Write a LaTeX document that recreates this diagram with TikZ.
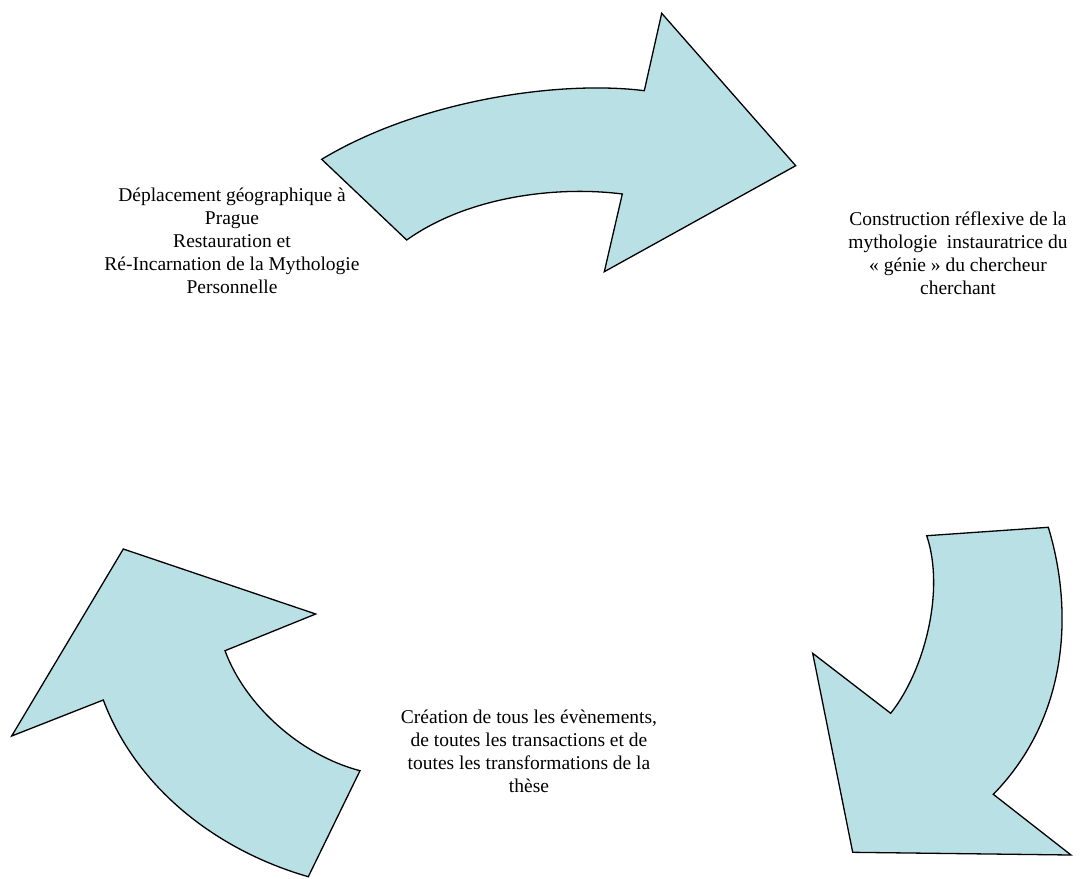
\documentclass[tikz,border=0pt]{standalone}
\usepackage{fontspec}
\setmainfont{Liberation Serif}
\definecolor{arrowfill}{RGB}{185,224,228}
\tikzset{
  bigarrow/.style={draw=black, line width=1.3pt, fill=arrowfill, line join=miter},
  label/.style={align=center, font=\fontsize{19.5}{23}\selectfont, inner sep=0pt}
}
\begin{document}
\begin{tikzpicture}[x=1pt,y=-1pt]
\useasboundingbox (0,0) rectangle (1091,878);
% top arrow
\draw[bigarrow] (321.7,159.3) .. controls (420,100) and (560,80) .. (644.3,90.7)
  -- (661.7,13.3) -- (795.7,165.7) -- (604.3,271.7) -- (622.3,194)
  .. controls (560,186) and (470,195) .. (406.7,240) -- cycle;
% right arrow
\draw[bigarrow] (926.7,535.7) -- (1048.3,527.3)
  .. controls (1074,612) and (1068,718) .. (993.3,794.3)
  -- (1071,855) -- (852.7,852.3) -- (812.7,653.3) -- (890.7,713.3)
  .. controls (925,670) and (945,590) .. cycle;
% left arrow
\draw[bigarrow] (123.3,549) -- (315.7,614) -- (225,650.7)
  .. controls (245,705) and (300,755) .. (360,770.7)
  -- (308.3,876.7)
  .. controls (216.5,850.3) and (136.4,788.1) .. (103.3,700)
  -- (11.7,736) -- cycle;
% texts
\node[label] (left) at (232,241) {Déplacement géographique à\\Prague\\Restauration et\\Ré-Incarnation de la Mythologie\\Personnelle};
\node[label] (right) at (958,253.5) {Construction réflexive de la\\mythologie\ \ instauratrice du\\«~génie~» du chercheur\\cherchant};
\node[label] (bottom) at (529,751) {Création de tous les évènements,\\de toutes les transactions et de\\toutes les transformations de la\\thèse};
\end{tikzpicture}
\end{document}
